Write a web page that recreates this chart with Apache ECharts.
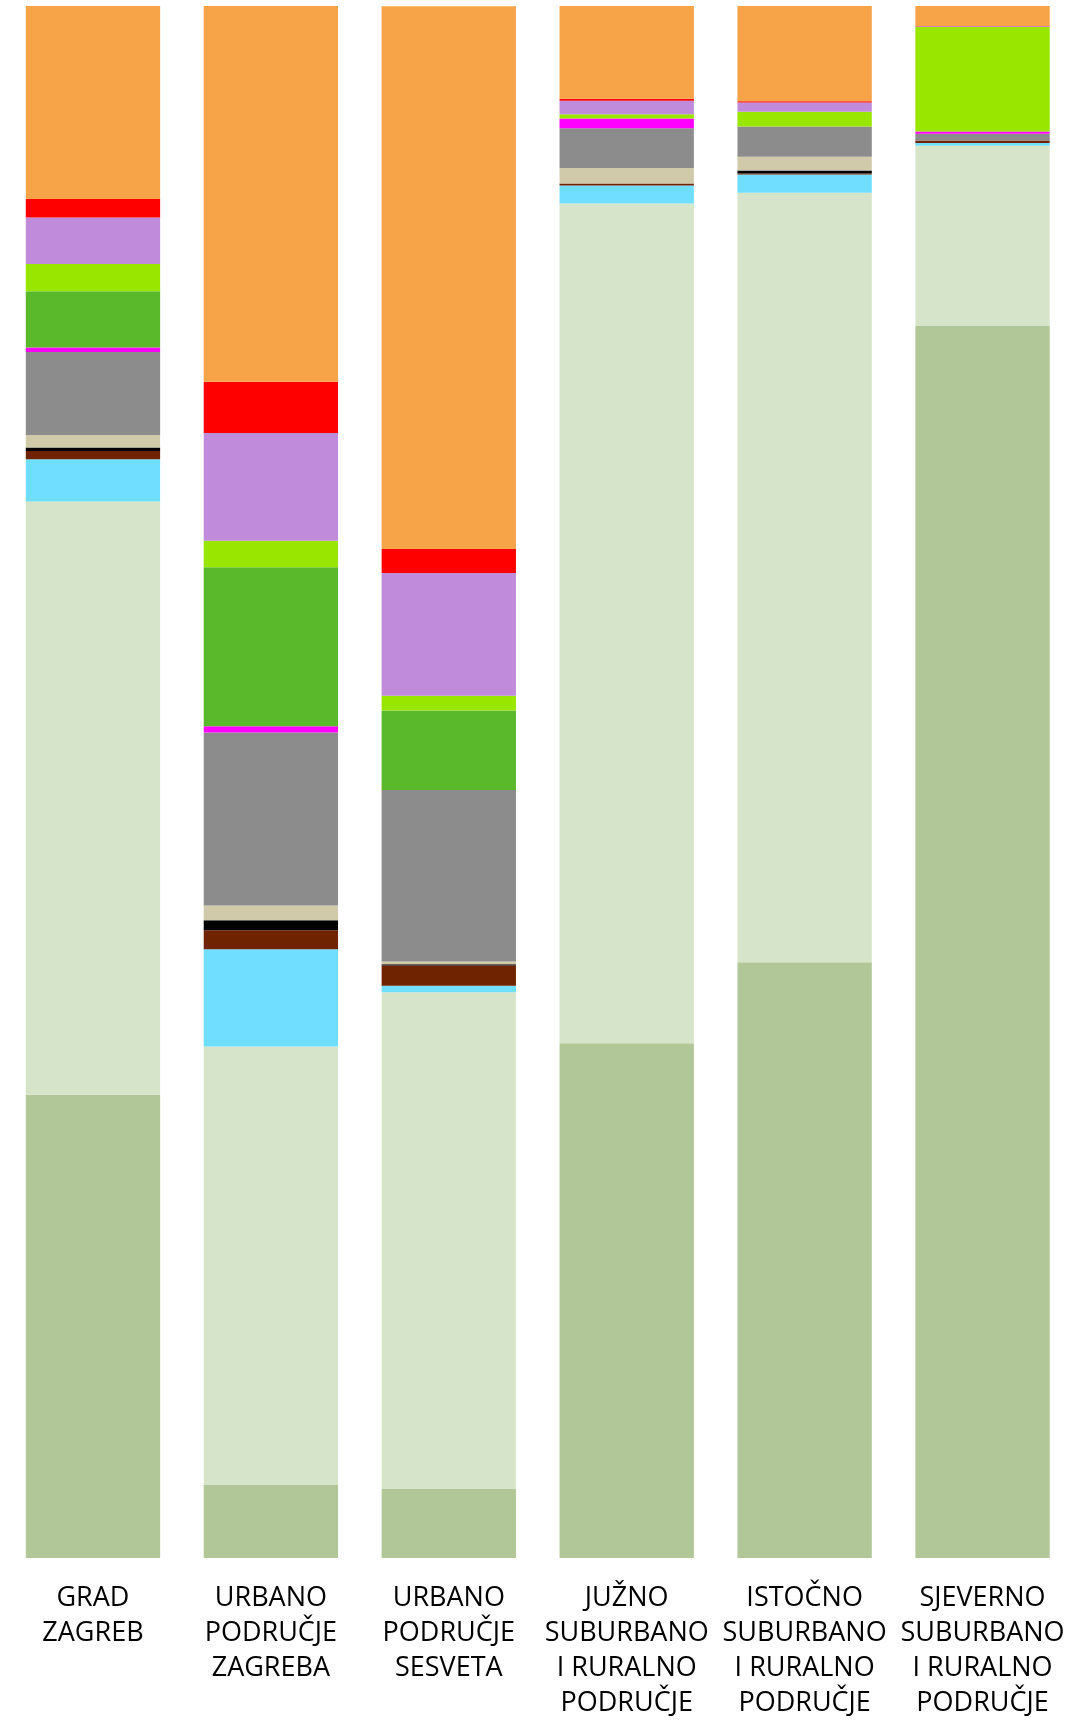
<!DOCTYPE html>
<html>
<head>
    <meta charset="utf-8">
    <title>Struktura po područjima</title>
    <script src="https://cdn.jsdelivr.net/npm/echarts@6/dist/echarts.min.js"></script>
    <style>
        html, body { margin: 0; padding: 0; background: #fff; }
        #chart { width: 1087px; height: 1721px; }
    </style>
</head>
<body>
<div id="chart"></div>
<script>
    var categories = [
        'GRAD\nZAGREB',
        'URBANO\nPODRUČJE\nZAGREBA',
        'URBANO\nPODRUČJE\nSESVETA',
        'JUŽNO\nSUBURBANO\nI RURALNO\nPODRUČJE',
        'ISTOČNO\nSUBURBANO\nI RURALNO\nPODRUČJE',
        'SJEVERNO\nSUBURBANO\nI RURALNO\nPODRUČJE'
    ];

    // udjeli u %, od dna stupca prema vrhu
    var darkGreen  = [29.85, 4.73, 4.45, 33.16, 38.39, 79.42];
    var lightGreen = [38.22, 28.22, 32.01, 54.12, 49.58, 11.58];
    var cyan       = [2.73, 6.28, 0.41, 1.16, 1.18, 0.17];
    var brown      = [0.53, 1.22, 1.31, 0.13, 0.06, 0.17];
    var black      = [0.23, 0.64, 0.08, 0, 0.19, 0];
    var beige      = [0.80, 0.96, 0.17, 0.99, 0.88, 0];
    var gray       = [5.35, 11.14, 11.05, 2.57, 1.95, 0.43];
    var magenta    = [0.28, 0.41, 0, 0.62, 0, 0.15];
    var green      = [3.63, 10.24, 5.12, 0, 0, 0];
    var lime       = [1.75, 1.70, 0.95, 0.28, 0.95, 6.72];
    var purple     = [3.00, 6.94, 7.92, 0.86, 0.60, 0.05];
    var red        = [1.20, 3.31, 1.54, 0.13, 0.09, 0.02];
    var orange     = [12.43, 24.21, 34.98, 5.98, 6.13, 1.29];

    var layers = [
        { name: 'darkGreen', data: darkGreen, color: '#B1C797' },
        { name: 'lightGreen', data: lightGreen, color: '#D6E5CA' },
        { name: 'cyan', data: cyan, color: '#70DEFF' },
        { name: 'brown', data: brown, color: '#702300' },
        { name: 'black', data: black, color: '#000000' },
        { name: 'beige', data: beige, color: '#D0C9AA' },
        { name: 'gray', data: gray, color: '#8C8C8C' },
        { name: 'magenta', data: magenta, color: '#FF00FF' },
        { name: 'green', data: green, color: '#5AB82B' },
        { name: 'lime', data: lime, color: '#99E600' },
        { name: 'purple', data: purple, color: '#BF8BDA' },
        { name: 'red', data: red, color: '#FF0000' },
        { name: 'orange', data: orange, color: '#F7A348' }
    ];

    var chart = echarts.init(document.getElementById('chart'), null, { renderer: 'canvas' });

    chart.setOption({
        animation: false,
        grid: { left: 4, right: 15.5, top: 6, bottom: 159.5 },
        xAxis: {
            type: 'category',
            data: categories,
            axisLine: { show: false },
            axisTick: { show: false },
            axisLabel: {
                interval: 0,
                margin: 23,
                fontFamily: 'Open Sans',
                fontSize: 27,
                lineHeight: 35,
                color: '#000'
            }
        },
        yAxis: {
            type: 'value',
            min: 0,
            max: 100,
            show: false
        },
        series: layers.map(function (l) {
            return {
                name: l.name,
                type: 'bar',
                stack: 'total',
                barCategoryGap: '24.5%',
                itemStyle: { color: l.color },
                data: l.data
            };
        })
    });
</script>
</body>
</html>
